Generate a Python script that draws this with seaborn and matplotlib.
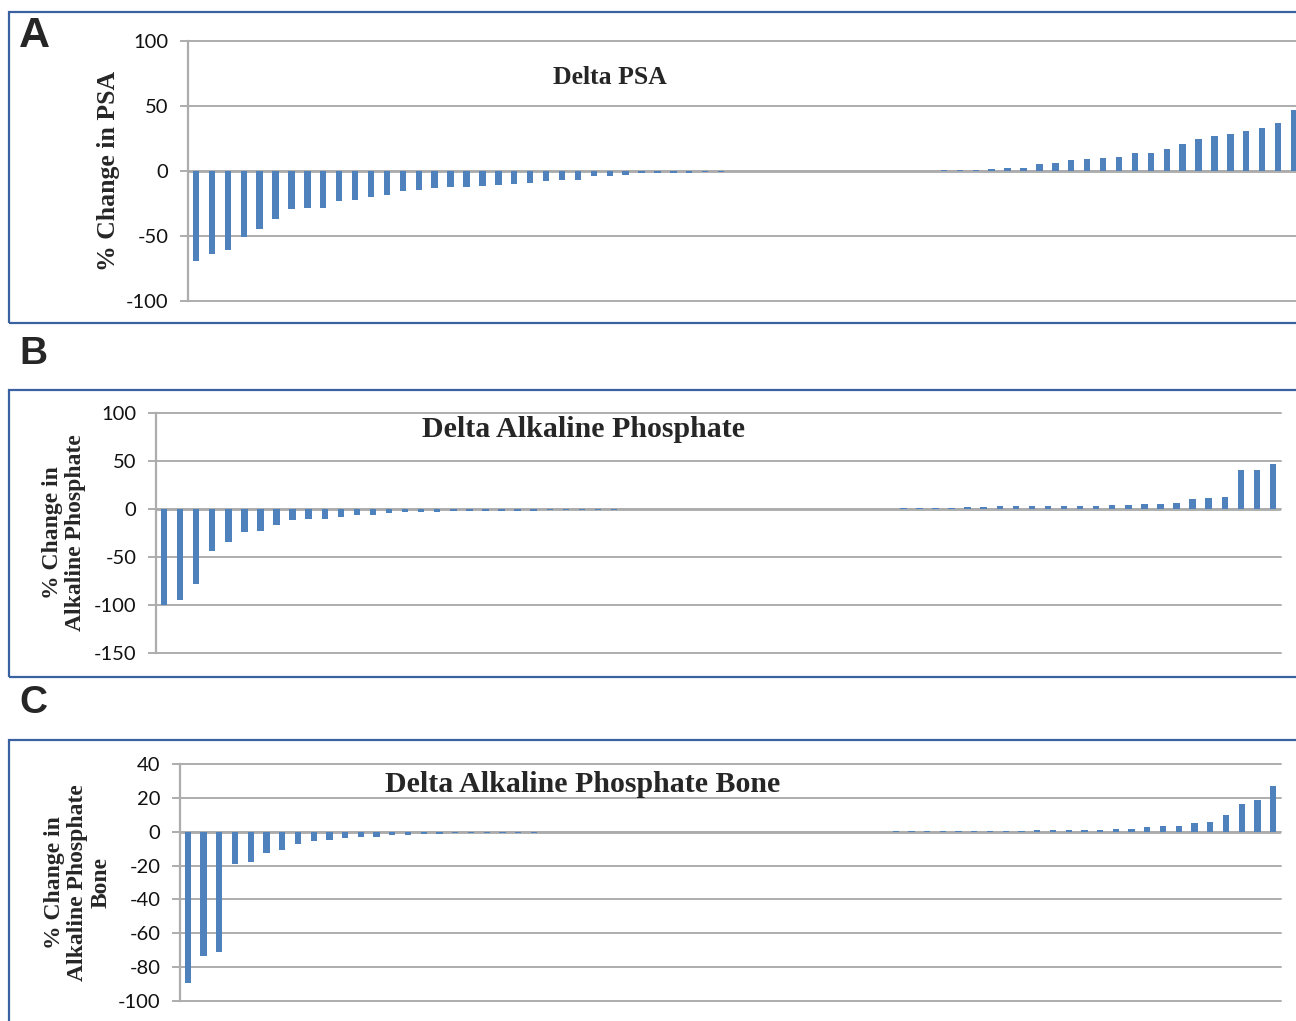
import numpy as np
import pandas as pd
import matplotlib
matplotlib.use("Agg")
import matplotlib.pyplot as plt
from matplotlib.patches import Rectangle
import seaborn as sns

# values, sorted waterfall order (70 patients per panel)
psa_change = [-69, -64, -61, -51, -45, -37, -29.5, -28.5, -28.5, -23.3,
              -22, -20, -18.7, -15.6, -14.6, -12.8, -12.3, -12.3, -11.5, -10.8,
              -10, -9.5, -8, -6.7, -6.7, -4.1, -3.8, -3, -1.5, -1.5,
              -1.5, -1.5, -0.8, -0.5, -0.3,
              -0.2, -0.2, -0.1, -0.1, -0.1, 0.1, 0.1, 0.1, 0.2, 0.2, 0.2,
              0.3, 0.5, 0.8, 1.0, 1.3, 2.0, 2.6, 5, 6, 8.5,
              9.2, 10, 10.8, 13.8, 13.8, 16.7, 21, 24.6, 26.7, 28.7,
              30.5, 33.3, 36.7, 47]

alp_change = [-99.7, -94.8, -78, -43.4, -34, -23.8, -23, -16.8, -11.9, -10.8,
              -10.1, -8.4, -6.3, -6.3, -4.5, -3.5, -3.5, -3.1, -2.4, -2.4,
              -2.1, -2.1, -1.7, -1.7, -1.4, -1.0, -1.0, -1.0, -0.7, -0.4,
              -0.3, -0.3, -0.2, -0.2,
              -0.2, -0.1, -0.1, -0.1, 0, 0, 0, 0.1, 0.1, 0.2, 0.3, 0.4,
              0.7, 1, 1.4, 1.4, 2.1, 2.4, 3.1, 3.1, 3.1, 3.1,
              3.1, 3.1, 3.5, 3.8, 3.8, 4.9, 5.2, 6.3, 10.1, 11.5,
              12.6, 40.6, 40.6, 46.9]

bone_change = [-89.2, -73.6, -70.8, -19.1, -17.6, -12.6, -10.8, -7.3, -5.5, -4.9,
               -3.6, -3.4, -3.2, -2.2, -2.2, -1.4, -1.2, -0.8, -0.8, -0.8,
               -0.6,
               -0.5, -0.5, -0.4, -0.4, -0.4, -0.3, -0.3, -0.3, -0.2, -0.2,
               -0.2, -0.2, -0.1, -0.1, -0.1, -0.1, 0, 0, 0, 0,
               0.1, 0.1, 0.1, 0.1, 0.2,
               0.2, 0.2, 0.4, 0.6, 0.6, 0.6, 0.6, 0.6, 0.8, 0.8,
               0.8, 1.0, 1.2, 1.4, 1.8, 2.8, 3.6, 3.6, 5.2, 5.6,
               10, 16.4, 18.8, 27.2]

psa_ticks = [-100, -50, 0, 50, 100]
alp_ticks = [-150, -100, -50, 0, 50, 100]
bone_ticks = [-100, -80, -60, -40, -20, 0, 20, 40]

sns.set_style("white")
plt.rcParams['font.family'] = ['Lato', 'DejaVu Sans']
plt.rcParams['axes.unicode_minus'] = False

BAR = '#4F81BD'
GRID = '#ADADAD'
BOX = '#3B62A0'
SERIF = ['Liberation Serif', 'DejaVu Serif']
SANS = ['Liberation Sans', 'DejaVu Sans']

W, H = 1296, 1021
fig = plt.figure(figsize=(W / 100, H / 100), dpi=100)


def px_axes(left, right, top, bottom):
    return [left / W, 1 - bottom / H, (right - left) / W, (bottom - top) / H]


def panel(rect, values, ticks, title, title_xy, title_size, ylabel, ylabel_x,
          ylabel_size=17):
    ax = fig.add_axes(px_axes(*rect))
    df = pd.DataFrame({'patient': np.arange(1, len(values) + 1), 'change': values})
    sns.barplot(data=df, x='patient', y='change', ax=ax, color=BAR,
                saturation=1, width=0.4, linewidth=0)
    ax.set_xlim(-0.5, len(values) - 0.5)
    ax.set_ylim(ticks[0], ticks[-1])
    ax.set_yticks(ticks)
    ax.set_yticklabels([str(t) for t in ticks], fontsize=14.5)
    ax.set_xticks([])
    ax.set_xlabel('')
    ax.set_ylabel('')
    for s in ['top', 'right', 'bottom']:
        ax.spines[s].set_visible(False)
    ax.spines['left'].set_color(GRID)
    ax.spines['left'].set_linewidth(1.6)
    ax.tick_params(axis='y', length=6, width=1.4, color=GRID, pad=8,
                   direction='out', left=True, labelcolor='#111111')
    ax.yaxis.grid(True, color=GRID, linewidth=1.4)
    for gl in ax.get_ygridlines():
        gl.set_clip_on(False)
    ax.set_axisbelow(True)
    ax.axhline(0, color='#989898', linewidth=1.8, zorder=0.5)
    fig.text(title_xy[0] / W, 1 - title_xy[1] / H, title, ha='center', va='center',
             fontsize=title_size, fontweight='bold', family=SERIF)
    fig.text(ylabel_x / W, 1 - (rect[2] + rect[3]) / 2 / H, ylabel, rotation=90,
             ha='center', va='center', multialignment='center', fontsize=ylabel_size,
             fontweight='bold', family=SERIF, linespacing=1.15)
    return ax


# panel frames
for top, bottom in [(12, 323), (390, 677), (740, 1080)]:
    fig.patches.append(Rectangle((9 / W, 1 - bottom / H), 1.2, (bottom - top) / H,
                                 transform=fig.transFigure, fill=False,
                                 edgecolor=BOX, linewidth=1.6))

panel((188, 1302, 41, 301), psa_change, psa_ticks, 'Delta PSA', (610, 77), 18.5,
      '% Change in PSA', 109, ylabel_size=18.5)
panel((156, 1281, 413, 653), alp_change, alp_ticks, 'Delta Alkaline Phosphate',
      (584, 429), 21.5, '% Change in\nAlkaline Phosphate', 64)
panel((180, 1281, 764, 1001), bone_change, bone_ticks,
      'Delta Alkaline Phosphate Bone', (583, 784), 21.5,
      '% Change in\nAlkaline Phosphate\nBone', 78)

for letter, (x, y), size in zip('ABC', [(34, 36), (33, 354), (33, 703)], [31, 28, 28]):
    fig.text(x / W, 1 - y / H, letter, ha='center', va='center', fontsize=size,
             fontweight='bold', family=SANS)

fig.savefig('out.png', dpi=100)
